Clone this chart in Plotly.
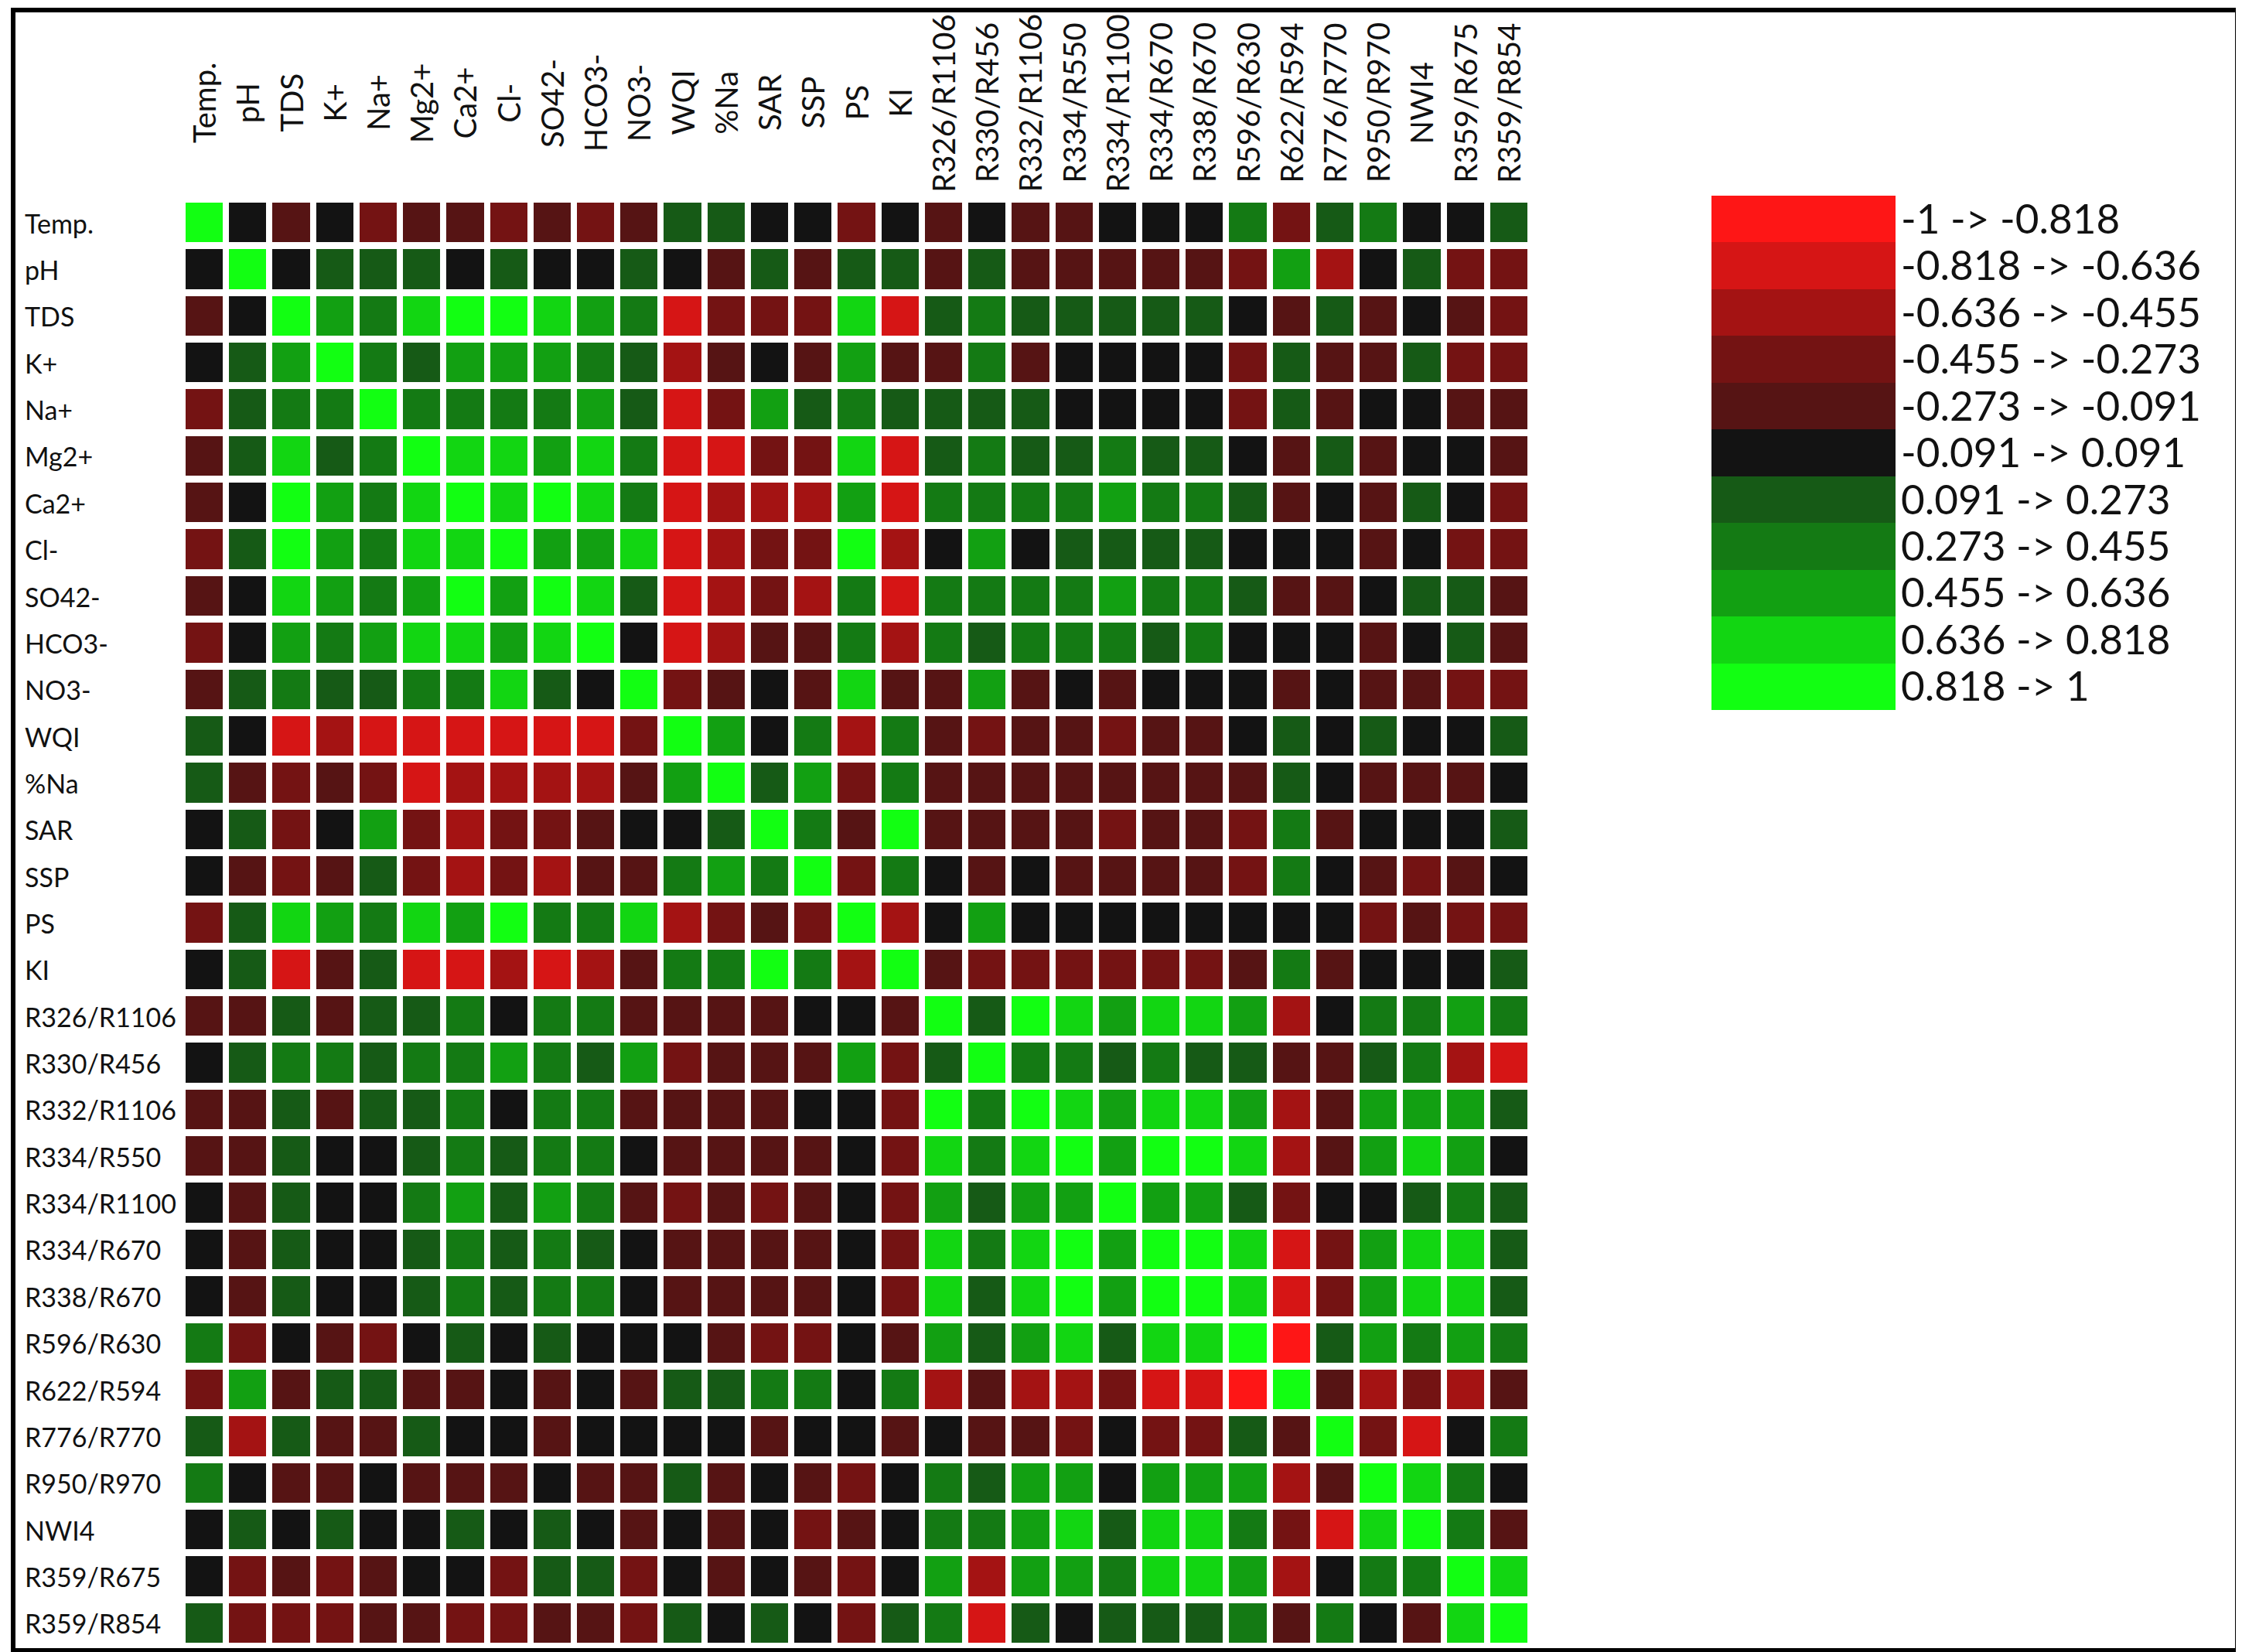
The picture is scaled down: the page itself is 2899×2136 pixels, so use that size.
import plotly.graph_objects as go

W, H = 2899, 2136

labels = ["Temp.", "pH", "TDS", "K+", "Na+", "Mg2+", "Ca2+", "Cl-", "SO42-", "HCO3-", "NO3-",
          "WQI", "%Na", "SAR", "SSP", "PS", "KI",
          "R326/R1106", "R330/R456", "R332/R1106", "R334/R550", "R334/R1100", "R334/R670",
          "R338/R670", "R596/R630", "R622/R594", "R776/R770", "R950/R970", "NWI4",
          "R359/R675", "R359/R854"]

# correlation rows (one list per variable)
r_temp = [1.0, 0, -.18, 0, -.36, -.18, -.18, -.36, -.18, -.36, -.18, .18, .18, 0, 0, -.36, 0, -.18, 0, -.18, -.18, 0, 0, 0, .36, -.36, .18, .36, 0, 0, .18]
r_ph = [0, 1.0, 0, .18, .18, .18, 0, .18, 0, 0, .18, 0, -.18, .18, -.18, .18, .18, -.18, .18, -.18, -.18, -.18, -.18, -.18, -.36, .55, -.55, 0, .18, -.36, -.36]
r_tds = [-.18, 0, 1.0, .55, .36, .72, .9, .9, .72, .55, .36, -.72, -.36, -.36, -.36, .72, -.72, .18, .36, .18, .18, .18, .18, .18, 0, -.18, .18, -.18, 0, -.18, -.36]
r_k = [0, .18, .55, 1.0, .36, .18, .55, .55, .55, .36, .18, -.55, -.18, 0, -.18, .55, -.18, -.18, .36, -.18, 0, 0, 0, 0, -.36, .18, -.18, -.18, .18, -.36, -.36]
r_na = [-.36, .18, .36, .36, 1.0, .36, .36, .36, .36, .55, .18, -.72, -.36, .55, .18, .36, .18, .18, .18, .18, 0, 0, 0, 0, -.36, .18, -.18, 0, 0, -.18, -.18]
r_mg = [-.18, .18, .72, .18, .36, 1.0, .72, .72, .55, .72, .36, -.72, -.72, -.36, -.36, .72, -.72, .18, .36, .18, .18, .36, .18, .18, 0, -.18, .18, -.18, 0, 0, -.18]
r_ca = [-.18, 0, .9, .55, .36, .72, 1.0, .72, .9, .72, .36, -.72, -.55, -.55, -.55, .55, -.72, .36, .36, .36, .36, .55, .36, .36, .18, -.18, 0, -.18, .18, 0, -.36]
r_cl = [-.36, .18, .9, .55, .36, .72, .72, 1.0, .55, .55, .72, -.72, -.55, -.36, -.36, .9, -.55, 0, .55, 0, .18, .18, .18, .18, 0, 0, 0, -.18, 0, -.36, -.36]
r_so4 = [-.18, 0, .72, .55, .36, .55, .9, .55, 1.0, .72, .18, -.72, -.55, -.36, -.55, .36, -.72, .36, .36, .36, .36, .55, .36, .36, .18, -.18, -.18, 0, .18, .18, -.18]
r_hco3 = [-.36, 0, .55, .36, .55, .72, .72, .55, .72, 1.0, 0, -.72, -.55, -.18, -.18, .36, -.55, .36, .18, .36, .36, .36, .18, .36, 0, 0, 0, -.18, 0, .18, -.18]
r_no3 = [-.18, .18, .36, .18, .18, .36, .36, .72, .18, 0, 1.0, -.36, -.18, 0, -.18, .72, -.18, -.18, .55, -.18, 0, -.18, 0, 0, 0, -.18, 0, -.18, -.18, -.36, -.36]
r_wqi = [.18, 0, -.72, -.55, -.72, -.72, -.72, -.72, -.72, -.72, -.36, 1.0, .55, 0, .36, -.55, .36, -.18, -.36, -.18, -.18, -.36, -.18, -.18, 0, .18, 0, .18, 0, 0, .18]
r_pna = [.18, -.18, -.36, -.18, -.36, -.72, -.55, -.55, -.55, -.55, -.18, .55, 1.0, .18, .55, -.36, .36, -.18, -.18, -.18, -.18, -.18, -.18, -.18, -.18, .18, 0, -.18, -.18, -.18, 0]
r_sar = [0, .18, -.36, 0, .55, -.36, -.55, -.36, -.36, -.18, 0, 0, .18, 1.0, .36, -.18, .9, -.18, -.18, -.18, -.18, -.36, -.18, -.18, -.36, .36, -.18, 0, 0, 0, .18]
r_ssp = [0, -.18, -.36, -.18, .18, -.36, -.55, -.36, -.55, -.18, -.18, .36, .55, .36, 1.0, -.36, .36, 0, -.18, 0, -.18, -.18, -.18, -.18, -.36, .36, 0, -.18, -.36, -.18, 0]
r_ps = [-.36, .18, .72, .55, .36, .72, .55, .9, .36, .36, .72, -.55, -.36, -.18, -.36, 1.0, -.55, 0, .55, 0, 0, 0, 0, 0, 0, 0, 0, -.36, -.18, -.36, -.36]
r_ki = [0, .18, -.72, -.18, .18, -.72, -.72, -.55, -.72, -.55, -.18, .36, .36, .9, .36, -.55, 1.0, -.18, -.36, -.36, -.36, -.36, -.36, -.36, -.18, .36, -.18, 0, 0, 0, .18]
r_326_1106 = [-.18, -.18, .18, -.18, .18, .18, .36, 0, .36, .36, -.18, -.18, -.18, -.18, 0, 0, -.18, 1.0, .18, .9, .72, .55, .72, .72, .55, -.55, 0, .36, .36, .55, .36]
r_330_456 = [0, .18, .36, .36, .18, .36, .36, .55, .36, .18, .55, -.36, -.18, -.18, -.18, .55, -.36, .18, 1.0, .36, .36, .18, .36, .18, .18, -.18, -.18, .18, .36, -.55, -.72]
r_332_1106 = [-.18, -.18, .18, -.18, .18, .18, .36, 0, .36, .36, -.18, -.18, -.18, -.18, 0, 0, -.36, .9, .36, 1.0, .72, .55, .72, .72, .55, -.55, -.18, .55, .55, .55, .18]
r_334_550 = [-.18, -.18, .18, 0, 0, .18, .36, .18, .36, .36, 0, -.18, -.18, -.18, -.18, 0, -.36, .72, .36, .72, 1.0, .55, .9, .9, .72, -.55, -.18, .55, .72, .55, 0]
r_334_1100 = [0, -.18, .18, 0, 0, .36, .55, .18, .55, .36, -.18, -.36, -.18, -.36, -.18, 0, -.36, .55, .18, .55, .55, 1.0, .55, .55, .18, -.36, 0, 0, .18, .36, .18]
r_334_670 = [0, -.18, .18, 0, 0, .18, .36, .18, .36, .18, 0, -.18, -.18, -.18, -.18, 0, -.36, .72, .36, .72, .9, .55, 1.0, .9, .72, -.72, -.36, .55, .72, .72, .18]
r_338_670 = [0, -.18, .18, 0, 0, .18, .36, .18, .36, .36, 0, -.18, -.18, -.18, -.18, 0, -.36, .72, .18, .72, .9, .55, .9, 1.0, .72, -.72, -.36, .55, .72, .72, .18]
r_596_630 = [.36, -.36, 0, -.18, -.36, 0, .18, 0, .18, 0, 0, 0, -.18, -.36, -.36, 0, -.18, .55, .18, .55, .72, .18, .72, .72, 1.0, -.9, .18, .55, .36, .55, .36]
r_622_594 = [-.36, .55, -.18, .18, .18, -.18, -.18, 0, -.18, 0, -.18, .18, .18, .36, .36, 0, .36, -.55, -.18, -.55, -.55, -.36, -.72, -.72, -.9, 1.0, -.18, -.55, -.36, -.55, -.18]
r_776_770 = [.18, -.55, .18, -.18, -.18, .18, 0, 0, -.18, 0, 0, 0, 0, -.18, 0, 0, -.18, 0, -.18, -.18, -.36, 0, -.36, -.36, .18, -.18, 1.0, -.36, -.72, 0, .36]
r_950_970 = [.36, 0, -.18, -.18, 0, -.18, -.18, -.18, 0, -.18, -.18, .18, -.18, 0, -.18, -.36, 0, .36, .18, .55, .55, 0, .55, .55, .55, -.55, -.18, 1.0, .72, .36, 0]
r_nwi4 = [0, .18, 0, .18, 0, 0, .18, 0, .18, 0, -.18, 0, -.18, 0, -.36, -.18, 0, .36, .36, .55, .72, .18, .72, .72, .36, -.36, -.72, .72, 1.0, .36, -.18]
r_359_675 = [0, -.36, -.18, -.36, -.18, 0, 0, -.36, .18, .18, -.36, 0, -.18, 0, -.18, -.36, 0, .55, -.55, .55, .55, .36, .72, .72, .55, -.55, 0, .36, .36, 1.0, .72]
r_359_854 = [.18, -.36, -.36, -.36, -.18, -.18, -.36, -.36, -.18, -.18, -.36, .18, 0, .18, 0, -.36, .18, .36, -.72, .18, 0, .18, .18, .18, .36, -.18, .36, 0, -.18, .72, 1.0]

corr = [r_temp, r_ph, r_tds, r_k, r_na, r_mg, r_ca, r_cl, r_so4, r_hco3, r_no3,
        r_wqi, r_pna, r_sar, r_ssp, r_ps, r_ki,
        r_326_1106, r_330_456, r_332_1106, r_334_550, r_334_1100, r_334_670,
        r_338_670, r_596_630, r_622_594, r_776_770, r_950_970, r_nwi4,
        r_359_675, r_359_854]

# class edges of the legend
bin_edges = [-1, -0.818, -0.636, -0.455, -0.273, -0.091, 0.091, 0.273, 0.455, 0.636, 0.818, 1]
bin_colors = ["#FE1616", "#D61515", "#A41313", "#741313", "#561414", "#131313",
              "#165A16", "#147A14", "#12A012", "#12D612", "#12FF12"]

# stepped colour scale from the class edges
colorscale = []
for i, c in enumerate(bin_colors):
    colorscale.append([(bin_edges[i] + 1) / 2, c])
    colorscale.append([(bin_edges[i + 1] + 1) / 2, c])

legend_labels = ["%g -> %g" % (bin_edges[i], bin_edges[i + 1]) for i in range(len(bin_colors))]
legend_z = [[(bin_edges[i] + bin_edges[i + 1]) / 2] for i in range(len(bin_colors))]

# pixel layout
L, T, R, B = 228, 245, 2443, 2121
PW, PH = R - L, B - T


def px_x(px):
    return (px - L) / PW


def px_y(py):
    return (B - py) / PH


fig = go.Figure()

fig.add_trace(go.Heatmap(
    z=corr, x=labels, y=labels,
    colorscale=colorscale, zmin=-1, zmax=1,
    xgap=8, ygap=9, showscale=False,
    hovertemplate="%{y} / %{x}: %{z}<extra></extra>",
))

fig.add_trace(go.Heatmap(
    z=legend_z, x=["legend"], y=legend_labels,
    colorscale=colorscale, zmin=-1, zmax=1,
    showscale=False, xaxis="x2", yaxis="y2",
    hoverinfo="skip",
))

annotations = []
for lab in labels:
    # column labels, rotated
    annotations.append(dict(
        x=lab, xref="x", y=px_y(125), yref="paper",
        text=lab, showarrow=False, textangle=-90,
        xanchor="center", yanchor="middle",
        font=dict(family="Lato", size=40, color="#111111"),
    ))
    # row labels, left aligned
    annotations.append(dict(
        x=px_x(22), xref="paper", y=lab, yref="y",
        text=lab, showarrow=False,
        xanchor="left", yanchor="middle",
        font=dict(family="Lato", size=34, color="#111111"),
    ))

fig.update_layout(
    width=W, height=H,
    margin=dict(l=L, r=W - R, t=T, b=H - B),
    paper_bgcolor="white",
    plot_bgcolor="white",
    showlegend=False,
    xaxis=dict(domain=[0, px_x(1971)], showticklabels=False, ticks="",
               showgrid=False, zeroline=False, showline=False),
    yaxis=dict(domain=[0, px_y(250)], autorange="reversed", showticklabels=False,
               ticks="", showgrid=False, zeroline=False, showline=False),
    xaxis2=dict(domain=[px_x(2205), 1], anchor="y2", showticklabels=False,
                ticks="", showgrid=False, zeroline=False),
    yaxis2=dict(domain=[px_y(910), 1], anchor="x2", autorange="reversed",
                side="right", ticks="", showgrid=False, zeroline=False,
                tickmode="array", tickvals=legend_labels, ticktext=legend_labels,
                ticklabelstandoff=6,
                tickfont=dict(family="Lato", size=53, color="#111111")),
    annotations=annotations,
    shapes=[dict(type="rect", xref="paper", yref="paper",
                 x0=px_x(9), x1=px_x(2885), y0=px_y(2126), y1=px_y(5),
                 line=dict(color="black", width=6), layer="above")],
)

fig.write_html("out.html")
